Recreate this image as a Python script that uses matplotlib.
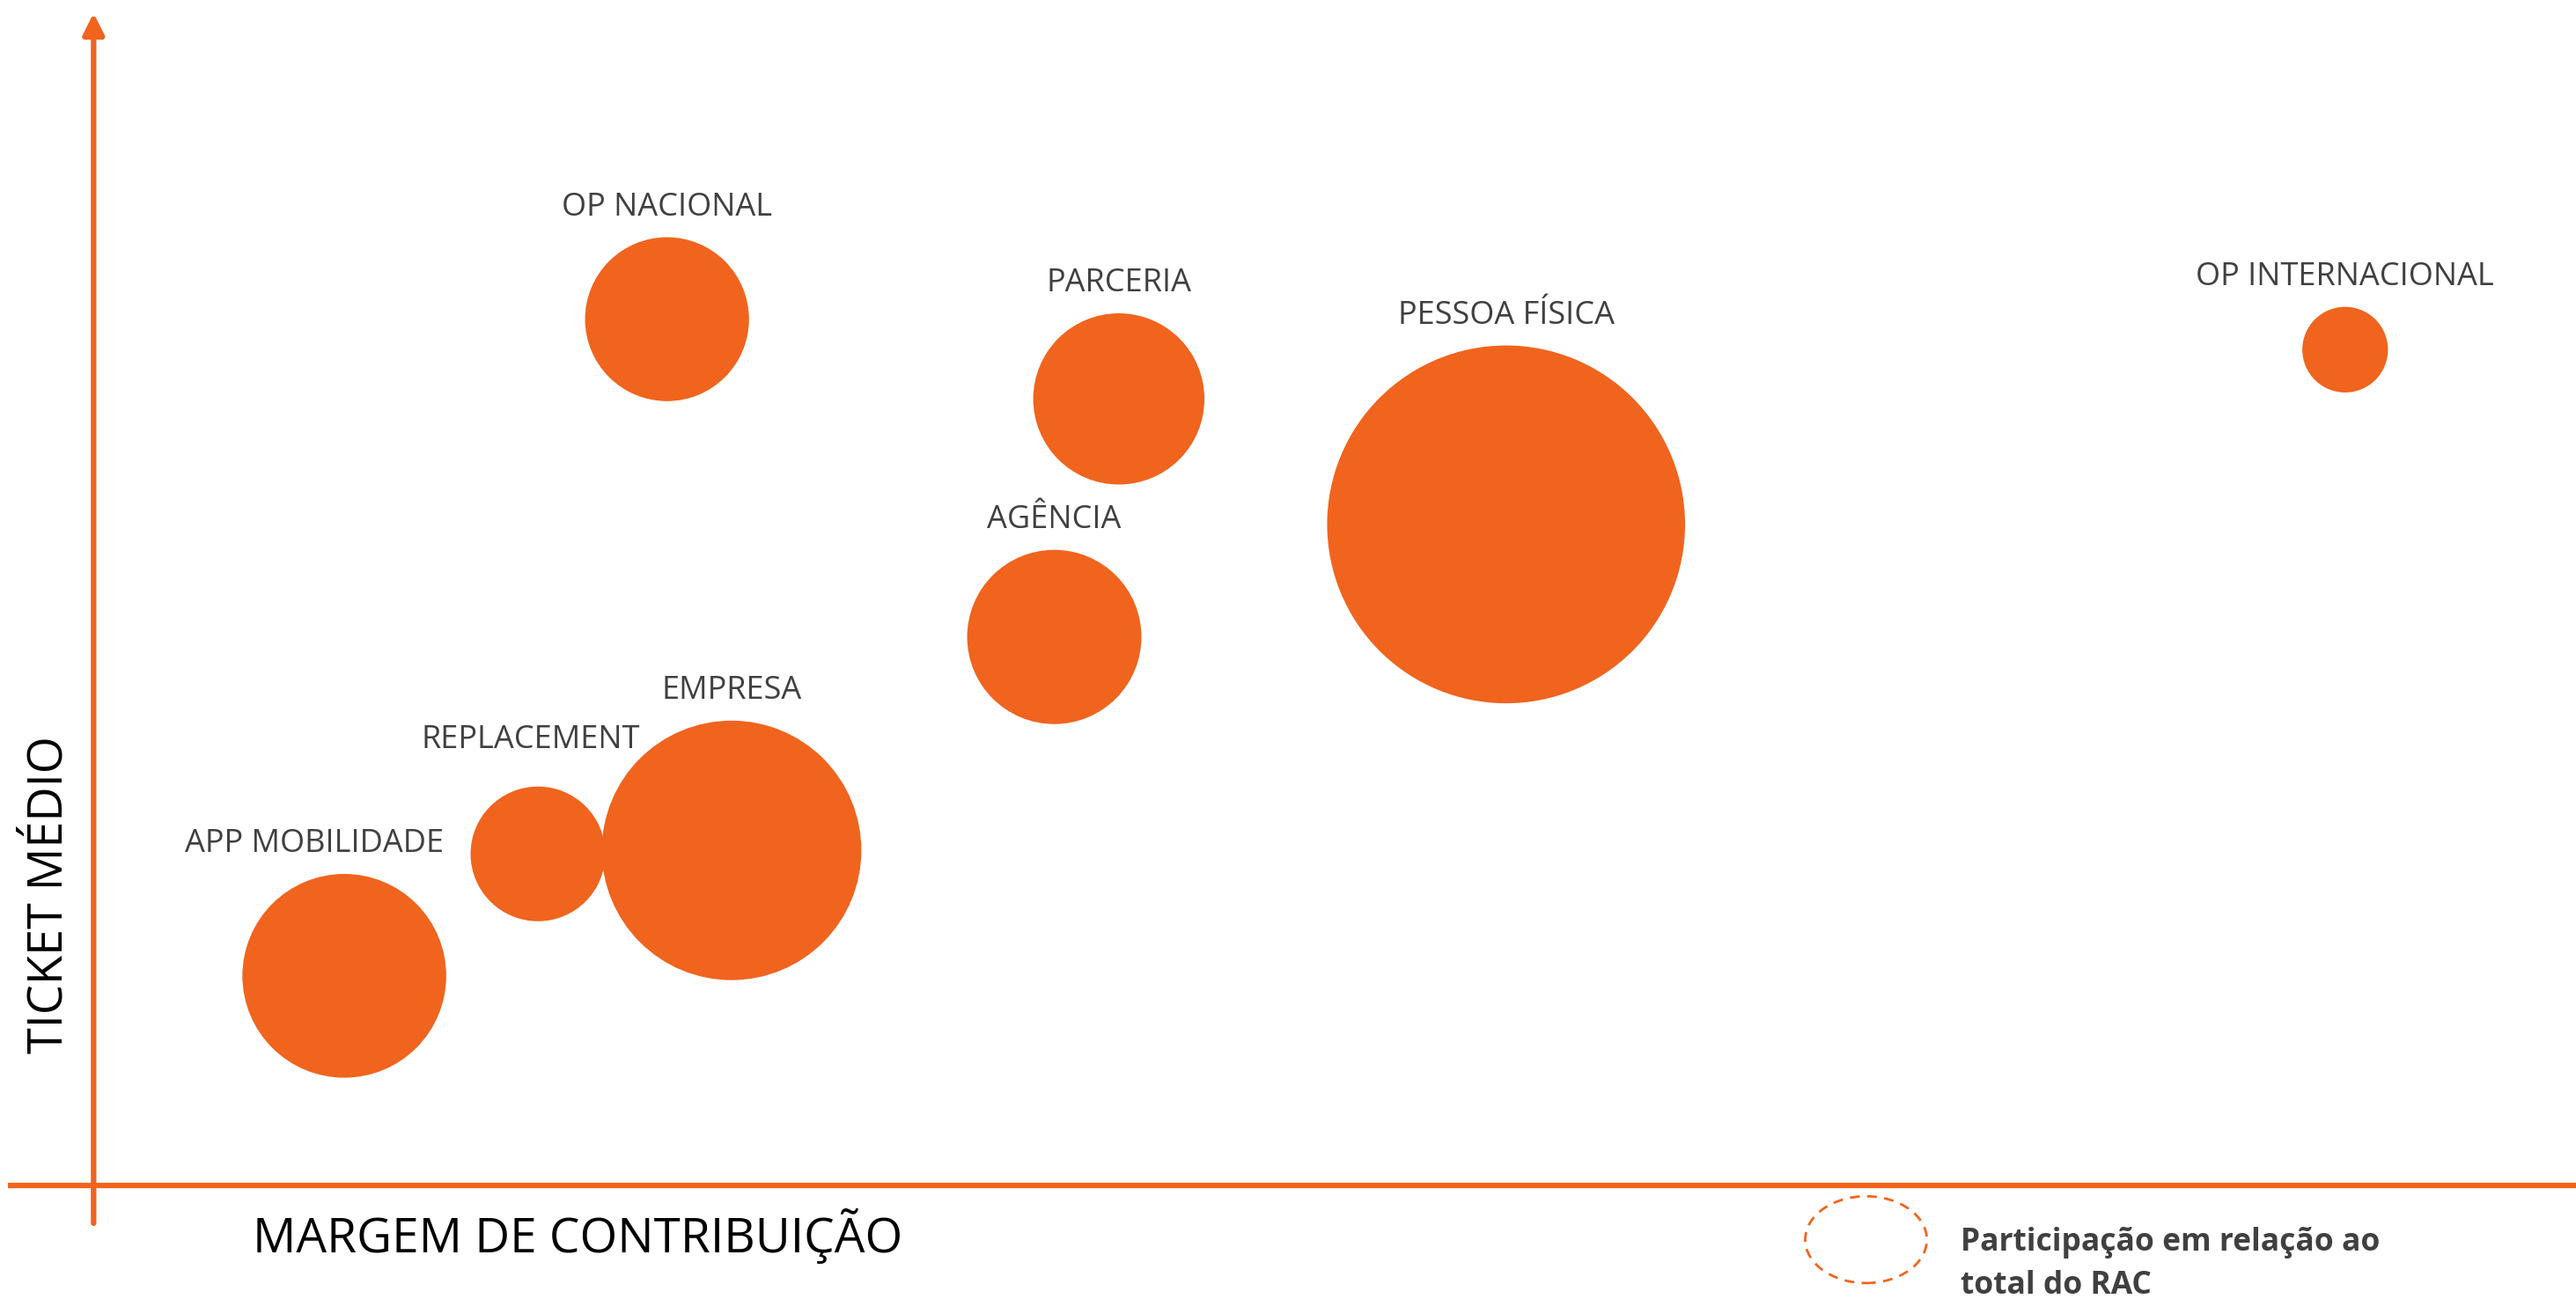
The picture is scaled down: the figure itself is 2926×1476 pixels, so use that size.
import matplotlib
matplotlib.use("Agg")
import matplotlib.pyplot as plt
from matplotlib.patches import Ellipse
import numpy as np

# segmentos do RAC: margem de contribuicao (x), ticket medio (y), participacao % (tamanho)
segmentos = ["OP NACIONAL", "PARCERIA", "PESSOA FÍSICA", "OP INTERNACIONAL",
             "AGÊNCIA", "EMPRESA", "REPLACEMENT", "APP MOBILIDADE"]
margem = [23.1, 41.3, 56.9, 90.7, 38.7, 25.7, 17.9, 10.1]
ticket = [73.9, 67.1, 56.4, 71.3, 46.8, 28.6, 28.3, 17.9]
participacao = [7.7, 8.4, 36.7, 2.1, 8.7, 19.3, 5.2, 11.9]
# ajuste fino do rotulo em relacao ao topo da bolha
rotulo_dx = [0, 0, 0, 0, 0, 0, -0.3, -1.2]
rotulo_dy = [0, 0, 0, 0, 0, 0, 1.4, 0]

laranja = "#F0641E"
cinza = "#404040"
fonte = ["Open Sans", "DejaVu Sans"]

fig = plt.figure(figsize=(29.26, 14.76), dpi=100)
ax = fig.add_axes([0, 0, 1, 1])
ax.set_xlim(-3.77, 100)
ax.set_ylim(-9.66, 101.12)
ax.axis("off")

# tamanho do marcador (pt^2) proporcional a participacao
escala = 2335
s = np.array(participacao) * escala
ax.scatter(margem, ticket, s=s, color=laranja, edgecolors="none", zorder=3)

# raio em unidades de dados para posicionar o rotulo acima da bolha
raio_px = np.sqrt(s) / 2 * 100 / 72
px_por_y = 1476 / (101.12 + 9.66)
for nome, x, y, r, dx, dy in zip(segmentos, margem, ticket, raio_px, rotulo_dx, rotulo_dy):
    ax.text(x + dx, y + r / px_por_y + 1.2 + dy, nome, ha="center", va="bottom",
            fontsize=26, color=cinza, family=fonte, zorder=4)

# eixos com seta
ax.plot([-3.44, 100], [0, 0], color=laranja, lw=4.5, solid_capstyle="butt", zorder=2)
ax.annotate("", xy=(0, 100), xytext=(0, -3.2),
            arrowprops=dict(arrowstyle="-|>,head_length=0.4,head_width=0.2",
                            lw=4.5, color=laranja, mutation_scale=36,
                            shrinkA=0, shrinkB=0), zorder=2)

ax.text(19.5, -4.3, "MARGEM DE CONTRIBUIÇÃO", ha="center", va="center",
        fontsize=39.5, color="black", family=fonte)
ax.text(-1.8, 24.8, "TICKET MÉDIO", ha="center", va="center", rotation=90,
        fontsize=39, color="black", family=fonte)

# legenda: circulo tracejado
ax.add_patch(Ellipse((71.4, -4.6), 4.9, 7.4, fill=False, ec=laranja, lw=2,
                     ls=(0, (4, 3)), zorder=2))
ax.text(75.2, -6.7, "Participação em relação ao\ntotal do RAC", ha="left",
        va="center", fontsize=25.5, fontweight="bold", color=cinza, family=fonte,
        linespacing=1.45)

fig.savefig("out.png", dpi=100)
